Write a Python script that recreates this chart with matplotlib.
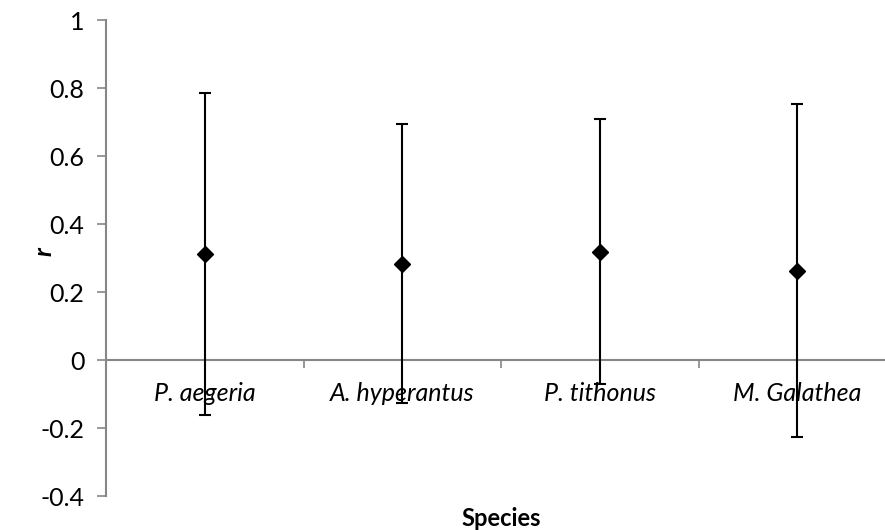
import matplotlib
matplotlib.use("Agg")
import matplotlib.pyplot as plt
from matplotlib.ticker import FixedLocator, NullFormatter

species = ["P. aegeria", "A. hyperantus", "P. tithonus", "M. Galathea"]
r_values = [0.312, 0.283, 0.319, 0.263]
r_errors = [0.474, 0.410, 0.390, 0.489]
y_ticks = [-0.4, -0.2, 0, 0.2, 0.4, 0.6, 0.8, 1]
y_ticklabels = ["-0.4", "-0.2", "0", "0.2", "0.4", "0.6", "0.8", "1"]

plt.rcParams['font.family'] = ['Lato', 'DejaVu Sans']

W, H = 885, 530
fig = plt.figure(figsize=(W / 100, H / 100), dpi=100)
left, right, bottom, top = 106, 896, 496, 20
ax = fig.add_axes([left / W, 1 - bottom / H, (right - left) / W, (bottom - top) / H])

x = list(range(len(species)))
ax.errorbar(x, r_values, yerr=r_errors, fmt='D', color='black', markersize=8.5,
            ecolor='black', elinewidth=1.5, capsize=4.5, capthick=1.5, zorder=3)

ax.set_xlim(-0.5, len(species) - 0.5)
ax.set_ylim(-0.4, 1)

grey = '#868686'
for s in ['top', 'right']:
    ax.spines[s].set_visible(False)
ax.spines['bottom'].set_position(('data', 0))
ax.spines['bottom'].set_color(grey)
ax.spines['left'].set_color(grey)
ax.spines['bottom'].set_linewidth(1.5)
ax.spines['left'].set_linewidth(1.5)

ax.set_yticks(y_ticks)
ax.set_yticklabels(y_ticklabels)
ax.tick_params(axis='y', direction='out', length=6.5, width=1.2, color=grey,
               labelsize=18, pad=9, labelcolor='black')

# category boundaries as major ticks, labels at category centers (minor)
ax.xaxis.set_major_locator(FixedLocator([i + 0.5 for i in range(len(species) - 1)] + [-0.5]))
ax.xaxis.set_major_formatter(NullFormatter())
ax.xaxis.set_minor_locator(FixedLocator(x))
ax.set_xticklabels(species, minor=True, fontstyle='italic')
ax.tick_params(axis='x', which='major', direction='out', length=6, width=1.2, color=grey)
ax.tick_params(axis='x', which='minor', length=0, labelsize=18, pad=16)

fig.text(44 / W, 1 - 252 / H, 'r', ha='center', va='center', rotation=90,
         fontsize=18, fontweight='bold', fontstyle='italic')
fig.text(501 / W, 1 - 518 / H, 'Species', ha='center', va='center',
         fontsize=17, fontweight='bold')

fig.savefig('out.png', dpi=100)
